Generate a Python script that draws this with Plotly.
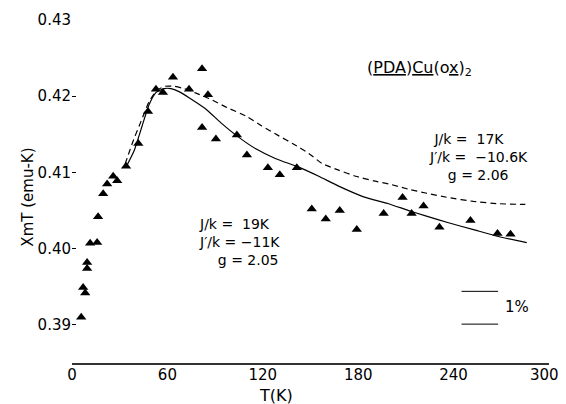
import plotly.graph_objects as go

# observed data (T in K, chi_m*T in emu-K)
T_obs = [5.8, 7.0, 8.3, 9.5, 9.5, 11.4, 15.8, 16.4, 19.6, 22.1, 25.9, 28.4, 34.0, 41.7,
         47.8, 52.8, 57.2, 63.5, 73.6, 81.8, 85.5, 81.8, 90.5, 103.7, 110.0, 123.2,
         130.7, 141.4, 150.8, 159.6, 168.4, 179.1, 196.0, 207.9, 213.6, 221.1, 231.1,
         250.6, 267.6, 275.8]
chi_obs = [0.3910, 0.3949, 0.3942, 0.3982, 0.3974, 0.4007, 0.4008, 0.4042, 0.4072, 0.4085,
           0.4095, 0.4089, 0.4108, 0.4138, 0.4180, 0.4209, 0.4205, 0.4225, 0.4209, 0.4236,
           0.4202, 0.4159, 0.4144, 0.4149, 0.4123, 0.4106, 0.4097, 0.4106, 0.4052, 0.4039,
           0.4050, 0.4025, 0.4046, 0.4067, 0.4046, 0.4056, 0.4028, 0.4037, 0.4020, 0.4019]

# fit J/k = 19K (solid)
T_fit19 = [34.0, 39.0, 44.1, 48.5, 52.9, 57.9, 62.3, 67.3, 73.6, 84.3, 93.7, 103.7, 115.6,
           128.2, 142.6, 155.2, 167.7, 183.4, 199.1, 211.7, 222.4, 236.8, 252.5, 268.2, 286.0]
chi_fit19 = [0.4107, 0.4128, 0.4161, 0.4189, 0.4205, 0.4210, 0.4210, 0.4206, 0.4198, 0.4183,
             0.4165, 0.4148, 0.4131, 0.4118, 0.4107, 0.4095, 0.4082, 0.4068, 0.4059, 0.4050,
             0.4043, 0.4034, 0.4025, 0.4016, 0.4008]

# fit J/k = 17K (dashed)
T_fit17 = [33.4, 38.4, 43.4, 48.5, 53.5, 58.5, 64.2, 70.5, 78.0, 86.2, 97.6, 109.4, 119.4,
           130.1, 139.5, 148.9, 157.1, 167.7, 178.4, 189.7, 199.1, 211.7, 222.4, 236.8,
           252.5, 268.2, 285.1]
chi_fit17 = [0.4111, 0.4141, 0.4167, 0.4193, 0.4208, 0.4213, 0.4213, 0.4210, 0.4204, 0.4197,
             0.4185, 0.4174, 0.4161, 0.4148, 0.4137, 0.4125, 0.4112, 0.4103, 0.4095, 0.4089,
             0.4085, 0.4078, 0.4073, 0.4067, 0.4062, 0.4059, 0.4058]

x_ticks = [0, 60, 120, 180, 240, 300]
x_ticktext = ["0", "60", "120", "180", "240", "300\u00a0\u00a0"]
y_ticks = [0.39, 0.40, 0.41, 0.42, 0.43]

# 1% scale bar
bar_T = [245, 268]
bar_levels = [0.3944, 0.3901]

FONT = "DejaVu Sans"
fig = go.Figure()
fig.add_trace(go.Scatter(x=T_fit19, y=chi_fit19, mode="lines",
                         line=dict(color="black", width=1.2, shape="spline", smoothing=0.5),
                         showlegend=False, hoverinfo="skip"))
fig.add_trace(go.Scatter(x=T_fit17, y=chi_fit17, mode="lines",
                         line=dict(color="black", width=1.2, dash="6px,4px",
                                   shape="spline", smoothing=0.5),
                         showlegend=False, hoverinfo="skip"))
fig.add_trace(go.Scatter(x=T_obs, y=chi_obs, mode="markers",
                         marker=dict(symbol="triangle-up", size=9, color="black"),
                         showlegend=False))

for lv in bar_levels:
    fig.add_shape(type="line", x0=bar_T[0], x1=bar_T[1], y0=lv, y1=lv,
                  xref="x", yref="y", line=dict(color="black", width=1))

nb = "\u00a0"
fig.add_annotation(x=184.5, y=0.4237, xref="x", yref="y",
                   text="(<u>PDA</u>)<u>Cu</u>(o<u>x</u>)<sub>2</sub>",
                   showarrow=False, xanchor="left", yanchor="middle",
                   font=dict(family=FONT, size=16, color="black"))
fig.add_annotation(x=223.0, y=0.4120, xref="x", yref="y",
                   text=(f"{nb}J/k ={nb}{nb}17K<br>"
                         f"J′/k ={nb}{nb}−10.6K<br>"
                         f"{nb*4}g ={nb}2.06"),
                   showarrow=False, xanchor="left", yanchor="middle", align="left",
                   font=dict(family=FONT, size=14, color="black"))
fig.add_annotation(x=78.6, y=0.4009, xref="x", yref="y",
                   text=(f"J/k ={nb}{nb}19K<br>"
                         f"J′/k ={nb}−11K<br>"
                         f"{nb*4}g = 2.05"),
                   showarrow=False, xanchor="left", yanchor="middle", align="left",
                   font=dict(family=FONT, size=14, color="black"))
fig.add_annotation(x=280.0, y=0.3923, xref="x", yref="y", text="1%", showarrow=False,
                   xanchor="center", yanchor="middle",
                   font=dict(family=FONT, size=15, color="black"))

# axis titles
fig.add_annotation(x=-0.093, y=0.484, xref="paper", yref="paper", text="XmT (emu-K)",
                   textangle=-90, showarrow=False, xanchor="center", yanchor="middle",
                   font=dict(family=FONT, size=15, color="black"))
fig.add_annotation(x=0.428, y=-0.0933, xref="paper", yref="paper", text="T(K)",
                   showarrow=False, xanchor="center", yanchor="middle",
                   font=dict(family=FONT, size=16, color="black"))

# page body has an 8px margin: figure is 8px smaller, margins shifted
fig.update_layout(
    width=558, height=396,
    margin=dict(l=64, r=17, t=12, b=41, autoexpand=False),
    paper_bgcolor="white", plot_bgcolor="white",
    font=dict(family=FONT, size=15, color="black"),
)
fig.update_xaxes(range=[0, 300], tickvals=x_ticks, ticktext=x_ticktext,
                 showgrid=False, zeroline=False, showline=True, linecolor="#333",
                 linewidth=1.5, ticks="", ticklabelstandoff=-3, ticklabeloverflow="allow",
                 automargin=False, tickfont=dict(family=FONT, size=15))
fig.update_yaxes(range=[0.385, 0.43], tickvals=y_ticks, ticktext=[f"{v:.2f}" for v in y_ticks],
                 showgrid=False, zeroline=False, showline=False, ticks="inside", ticklen=4,
                 automargin=False, tickcolor="black", tickfont=dict(family=FONT, size=15))

fig.write_html("out.html")
